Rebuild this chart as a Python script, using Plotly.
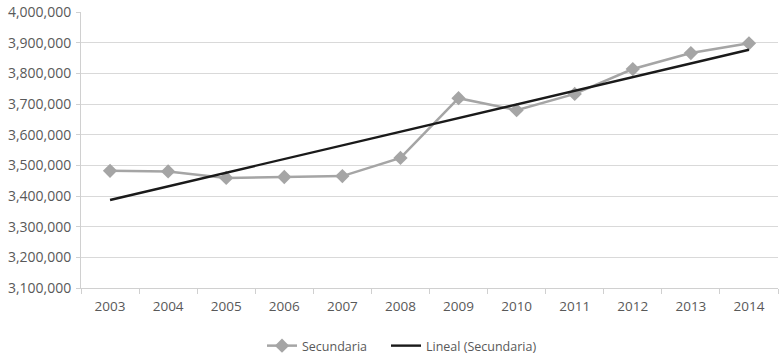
import plotly.graph_objects as go

years = ["2003", "2004", "2005", "2006", "2007", "2008", "2009", "2010", "2011", "2012", "2013", "2014"]
secundaria = [3482000, 3480000, 3459000, 3462000, 3465000, 3524000, 3719000, 3680000, 3733000, 3814000, 3866000, 3898000]
trend_years = ["2003", "2014"]
trend_values = [3387000, 3877000]
y_ticks = [3100000, 3200000, 3300000, 3400000, 3500000, 3600000, 3700000, 3800000, 3900000, 4000000]

font_family = "Open Sans, Noto Sans, sans-serif"
text_color = "#595959"

fig = go.Figure()
fig.add_trace(go.Scatter(
    x=years, y=secundaria, name="Secundaria", mode="lines+markers",
    line=dict(color="#A5A5A5", width=2.5),
    marker=dict(symbol="diamond", size=11, color="#A5A5A5"),
    legend="legend",
))
fig.add_trace(go.Scatter(
    x=trend_years, y=trend_values, name="Lineal (Secundaria)", mode="lines",
    line=dict(color="#1a1a1a", width=2.4),
    legend="legend2",
))

W, H = 783, 358
leg_common = dict(orientation="h", yref="container", xref="container", y=1 - 346 / H,
                  yanchor="middle", xanchor="left", itemwidth=30,
                  font=dict(size=12.5, color=text_color), bgcolor="rgba(0,0,0,0)")

fig.update_layout(
    width=W, height=H,
    margin=dict(l=81, r=5, t=12, b=70),
    paper_bgcolor="white", plot_bgcolor="white",
    font=dict(family=font_family, size=12, color=text_color),
    showlegend=True,
    legend=dict(x=262 / W, **leg_common),
    legend2=dict(x=386 / W, **leg_common),
)
fig.update_xaxes(
    type="category", categoryorder="array", categoryarray=years,
    showgrid=False, showline=True, linecolor="#D0D0D0", linewidth=1,
    ticks="outside", tickson="boundaries", ticklen=5, tickcolor="#D0D0D0",
    tickfont=dict(size=13.5, color=text_color), range=[-0.5, 11.5], automargin=False,
    ticklabelstandoff=6, ticklabeloverflow="allow",
)
fig.update_yaxes(
    range=[3100000, 4000000], tickvals=y_ticks, tickformat=",",
    showgrid=True, gridcolor="#D9D9D9", gridwidth=1,
    showline=True, linecolor="#D0D0D0", linewidth=1,
    ticks="outside", ticklen=4, tickcolor="#D0D0D0",
    tickfont=dict(size=14, color=text_color), zeroline=False, automargin=False,
    ticklabelstandoff=2, ticklabeloverflow="allow",
)

fig.write_html("out.html", config={"displayModeBar": False},
               post_script="document.body.style.margin='0';")
